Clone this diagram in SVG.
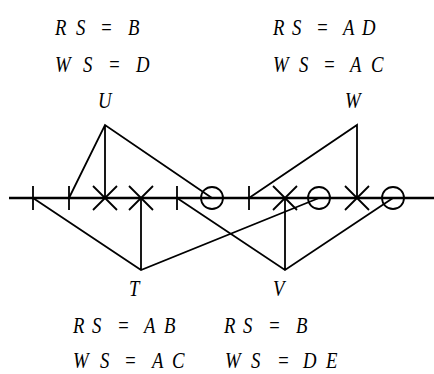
<svg xmlns="http://www.w3.org/2000/svg" width="434" height="374" viewBox="0 0 434 374">
<style>
text{font-family:"Liberation Serif","DejaVu Serif",serif;font-style:italic;font-size:24px;fill:#000}
.axis{stroke:#000;stroke-width:2.5;fill:none}
.mk{stroke:#000;stroke-width:1.8;fill:none}
.ln{stroke:#000;stroke-width:1.8;fill:none;stroke-linecap:round}
</style>
<rect width="434" height="374" fill="#fff"/>
<g id="axis">
<line class="axis" x1="9" y1="198" x2="434" y2="198"/>
<path class="mk" d="M33 186V210M69 186V210M177 186V210M249 186V210"/>
<path class="mk" d="M93 186L117 210M93 210L117 186M129 186L153 210M129 210L153 186M273 186L297 210M273 210L297 186M345 186L369 210M345 210L369 186"/>
<circle class="mk" cx="212" cy="198" r="11"/>
<circle class="mk" cx="319" cy="198" r="11"/>
<circle class="mk" cx="393" cy="198" r="11"/>
</g>
<g id="connectors">
<path class="ln" d="M69 198L105 125L212 198M105 125V198"/>
<path class="ln" d="M249 198L357 125V198"/>
<path class="ln" d="M33 198L141 270L319 198M141 198V270"/>
<path class="ln" d="M177 198L285 270L393 198M285 198V270"/>
</g>
<g id="U">
<g transform="scale(0.78 1)">
<text x="125.6" y="108">U</text>
<text x="70.5 97.4 115.4 128.2 147.4 164.1" y="35">RS = B</text>
<text x="70.5 106.4 121.8 138.5 156.4 174.4" y="72">WS = D</text>
</g>
</g>
<g id="W">
<g transform="scale(0.78 1)">
<text x="442.3" y="108">W</text>
<text x="350 374.4 391 405.1 423.1 439.7 464.1" y="35">RS = AD</text>
<text x="350 383.3 397.4 414.1 432.1 448.7 475.6" y="72">WS = AC</text>
</g>
</g>
<g id="T">
<g transform="scale(0.78 1)">
<text x="165.4" y="296">T</text>
<text x="93.6 117.9 134.6 150 166.7 184.6 210.3" y="333">RS = AB</text>
<text x="93.6 128.2 143.6 159 176.9 194.9 220.5" y="368">WS = AC</text>
</g>
</g>
<g id="V">
<g transform="scale(0.78 1)">
<text x="350" y="296">V</text>
<text x="287.2 311.5 328.2 343.6 361.5 379.5" y="333">RS = B</text>
<text x="288.5 321.8 338.5 355.1 371.8 388.5 417.9" y="368">WS = DE</text>
</g>
</g>
</svg>
